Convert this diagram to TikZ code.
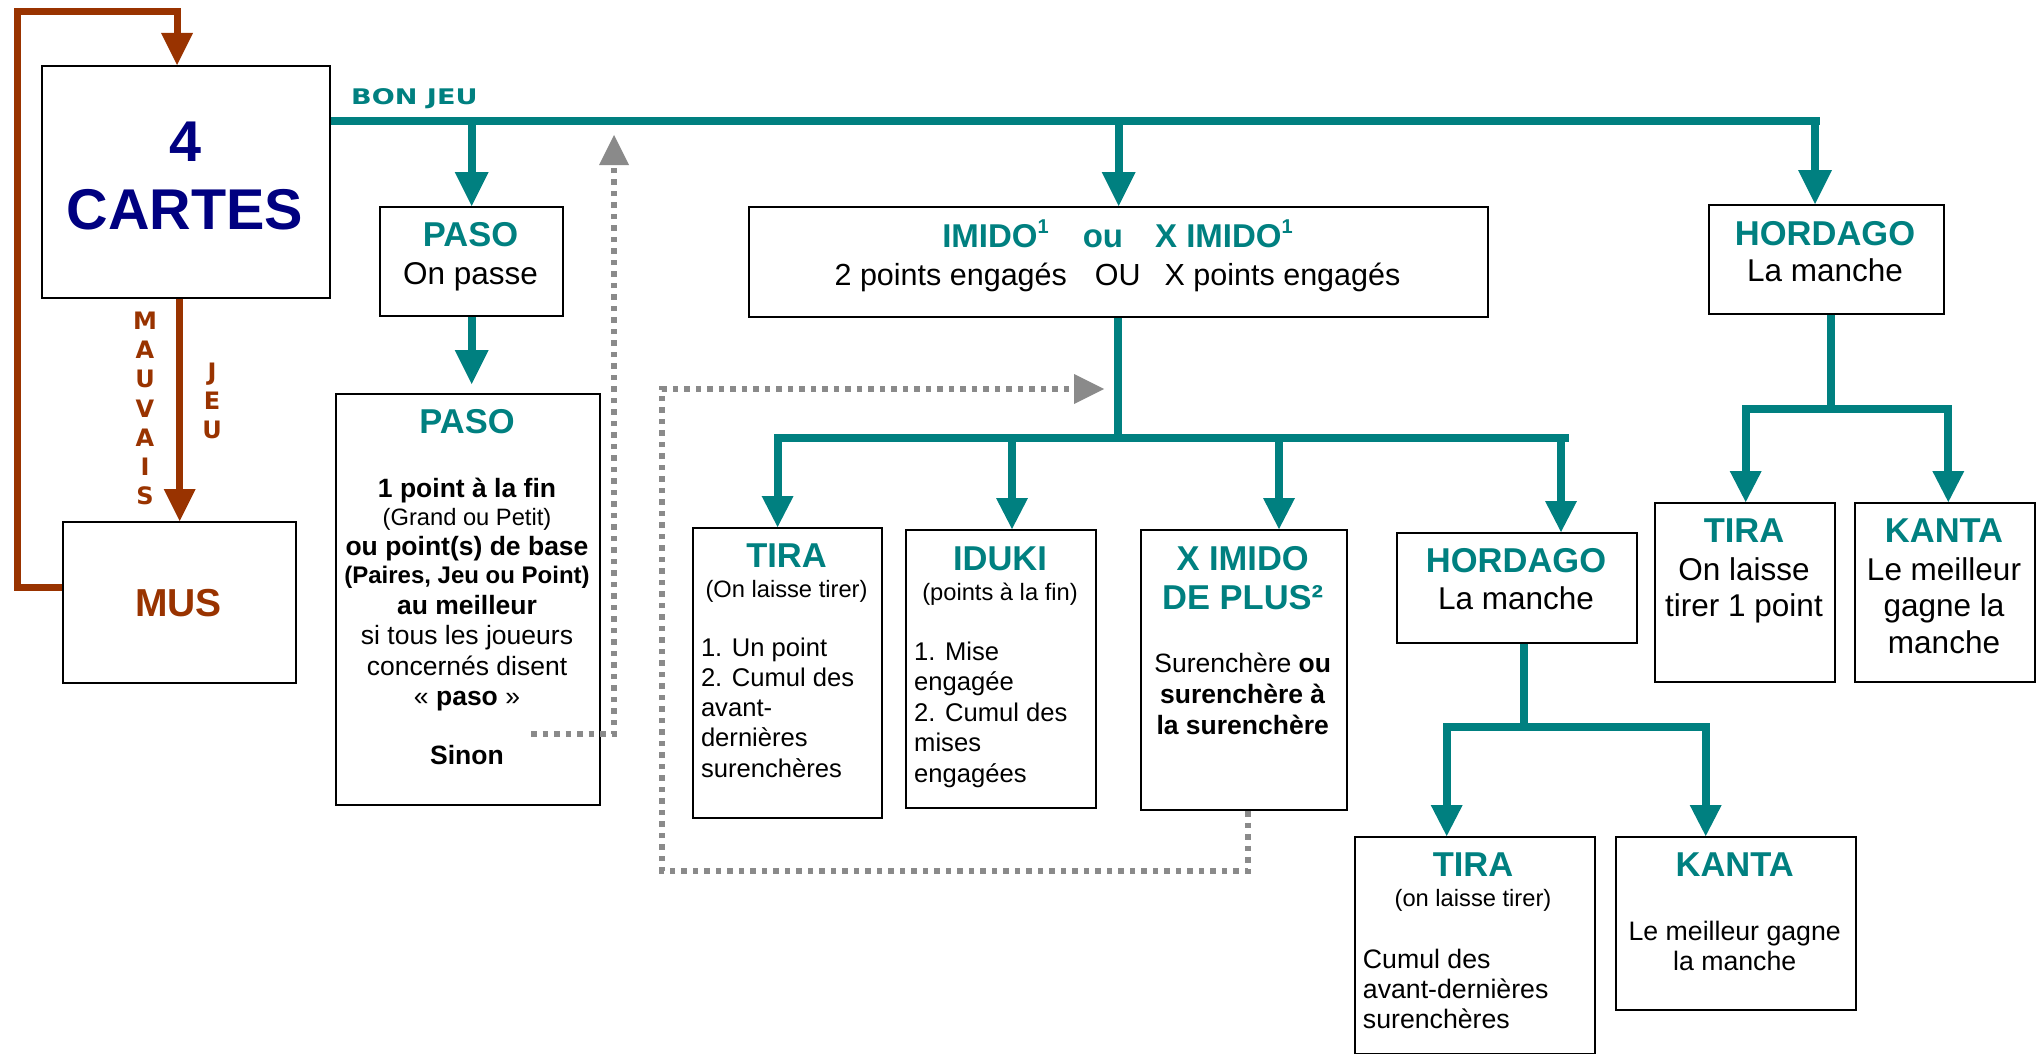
\documentclass[tikz,border=0pt]{standalone}
\usepackage{fontspec}
\setmainfont{Liberation Sans}
\newfontfamily\dvs[FakeStretch=1.26]{DejaVu Sans}
\newfontfamily\dv{DejaVu Sans}
\usetikzlibrary{arrows.meta}
\definecolor{tealc}{HTML}{008080}
\definecolor{brownc}{HTML}{993300}
\definecolor{navyc}{HTML}{000080}
\definecolor{grayc}{HTML}{8A8A8A}
\tikzset{
 box/.style={draw=black, line width=2.4pt, anchor=north west, inner sep=0pt},
 tl/.style={line width=8pt, draw=tealc},
 tlh/.style={tl, line cap=rect},
 ta/.style={tl, -{Triangle[width=34pt,length=34pt,line width=0pt]}},
 tb/.style={tl, -{Triangle[width=32pt,length=31pt,line width=0pt]}},
 ba/.style={line width=7pt, draw=brownc, -{Triangle[width=32pt,length=32pt,line width=0pt]}},
 ga/.style={line width=6pt, draw=grayc, dash pattern=on 5.5pt off 6pt, -{Triangle[width=30pt,length=30pt,line width=0pt]}},
 tx/.style={anchor=base, inner sep=0pt},
 lx/.style={anchor=base west, inner sep=0pt},
 ttl/.style={tx, text=tealc, font=\bfseries\fontsize{34.5}{40}\selectfont},
 big/.style={tx, font=\fontsize{31.5}{36}\selectfont},
 par/.style={tx, font=\fontsize{23.7}{28}\selectfont},
 lst/.style={lx, font=\fontsize{25.6}{30}\selectfont},
 mid/.style={tx, font=\fontsize{26.5}{30}\selectfont},
 midb/.style={tx, font=\bfseries\fontsize{26.5}{30}\selectfont},
 sm/.style={tx, font=\fontsize{26.7}{30}\selectfont},
 sml/.style={lx, font=\fontsize{26.7}{30}\selectfont},
 vl/.style={tx, text=brownc, font=\dv\bfseries\fontsize{24}{28}\selectfont},
}
\newcommand\supone{\raisebox{0.42em}{\fontsize{20}{20}\selectfont 1}}
\begin{document}
\begin{tikzpicture}[x=1pt,y=-1pt]
\useasboundingbox (0,0) rectangle (2040,1054);
% ---------- boxes
\node[box, minimum width=288pt, minimum height=232pt] (cartes) at (41,65) {};
\node[box, minimum width=233pt, minimum height=161pt] (mus) at (62,521) {};
\node[box, minimum width=183pt, minimum height=109pt] (paso1) at (379,206) {};
\node[box, minimum width=264pt, minimum height=411pt] (paso2) at (335,393) {};
\node[box, minimum width=739pt, minimum height=110pt] (imido) at (748,206) {};
\node[box, minimum width=189pt, minimum height=290pt] (tira) at (692,527) {};
\node[box, minimum width=190pt, minimum height=278pt] (iduki) at (905,529) {};
\node[box, minimum width=206pt, minimum height=280pt] (ximido) at (1140,529) {};
\node[box, minimum width=240pt, minimum height=110pt] (hord2) at (1396,532) {};
\node[box, minimum width=240pt, minimum height=217pt] (tira3) at (1353.5,836) {};
\node[box, minimum width=240pt, minimum height=173pt] (kanta3) at (1615,836) {};
\node[box, minimum width=235pt, minimum height=109pt] (hord1) at (1708,204) {};
\node[box, minimum width=180pt, minimum height=179pt] (tira2) at (1654,502) {};
\node[box, minimum width=180pt, minimum height=179pt] (kanta2) at (1854,502) {};

% ---------- coordinates
\coordinate (lb) at (17.5,587);
\coordinate (lt) at (17.5,11.5);
\coordinate (ct) at (177,11.5);
\coordinate (bjend) at (1820,121);
\coordinate (h1a) at (1815,121);
\coordinate (ja) at (777.6,438);
\coordinate (jb) at (1012,438);
\coordinate (jc) at (1279,438);
\coordinate (jd) at (1561,438);
\coordinate (je) at (1565,438);
\coordinate (jm) at (1117.5,438);
\coordinate (k0) at (1523.7,726.7);
\coordinate (k1) at (1446.7,726.7);
\coordinate (k2) at (1705.7,726.7);
\coordinate (h0) at (1830.7,409);
\coordinate (h1) at (1745.7,409);
\coordinate (h2) at (1948.3,409);
\coordinate (g1) at (531,734);
\coordinate (g2) at (614,734);
\coordinate (g3) at (614,135);
\coordinate (d1) at (1248,871);
\coordinate (d2) at (662,871);
\coordinate (d3) at (662,389);
\coordinate (d4) at (1104,389);
\path (paso1.south |- paso2.north) coordinate (pp0);

% ---------- brown connectors
\draw[ba] (mus.west |- lb) -- (lb) -- (lt) -- (ct) -- (ct |- cartes.north);
\draw[ba] (cartes.south -| mus.north) -- (mus.north);

% ---------- teal connectors
\draw[tl] (cartes.east |- bjend) -- (bjend);
\draw[ta] (paso1.north |- bjend) -- (paso1.north);
\draw[ta] (imido.north |- bjend) -- (imido.north);
\draw[ta] (h1a) -- (h1a |- hord1.north);
\draw[ta] (paso1.south) -- ([yshift=9pt]pp0);
\draw[tl] (imido.south -| jm) -- (jm);
\draw[tlh] (ja) -- (je);
\draw[tb] (ja) -- (ja |- tira.north);
\draw[tb] (jb) -- (jb |- iduki.north);
\draw[tb] (jc) -- (jc |- ximido.north);
\draw[tb] (jd) -- (jd |- hord2.north);
\draw[tl] (k0 |- hord2.south) -- (k0);
\draw[tlh] (k1) -- (k2);
\draw[tb] (k1) -- (k1 |- tira3.north);
\draw[tb] (k2) -- (k2 |- kanta3.north);
\draw[tl] (h0 |- hord1.south) -- (h0);
\draw[tlh] (h1) -- (h2);
\draw[tb] (h1) -- (h1 |- tira2.north);
\draw[tb] (h2) -- (h2 |- kanta2.north);

% ---------- gray dotted connectors
\draw[ga] (g1) -- (g2) -- (g3);
\draw[ga] (ximido.south -| d1) -- (d1) -- (d2) -- (d3) -- (d4);

% ---------- texts
\node[tx, text=navyc, font=\bfseries\fontsize{57.5}{60}\selectfont] (c4) at (185,161.7) {4};
\node[tx, text=navyc, font=\bfseries\fontsize{57.5}{60}\selectfont] (cc) at (185,229.3) {CARTES};
\node[tx, text=brownc, font=\bfseries\fontsize{39}{44}\selectfont] (mt) at (178.5,616) {MUS};
\node[lx, text=tealc, font=\dvs\bfseries\fontsize{21.5}{24}\selectfont] (bonjeu) at (351,105) {BON JEU};
\foreach \l/\y [count=\i] in {M/329.3,A/358.3,U/387.5,V/417,A/446,I/475,S/504}
  \node[vl] (mv\i) at (145,\y) {\l};
\foreach \l/\y [count=\i] in {J/380,E/409.5,U/438.5}
  \node[vl] (je\i) at (212,\y) {\l};

% PASO 1
\node[ttl] (p1a) at (470.5,246.7) {PASO};
\node[big] (p1b) at (470.5,284) {On passe};
% PASO 2
\node[ttl] (p2a) at (467,433.3) {PASO};
\node[midb] (p2b) at (467,497.3) {1 point à la fin};
\node[par] (p2c) at (467,525.7) {(Grand ou Petit)};
\node[midb] (p2d) at (467,555) {ou point(s) de base};
\node[tx, font=\bfseries\fontsize{24}{28}\selectfont] (p2e) at (467,583) {(Paires, Jeu ou Point)};
\node[midb] (p2f) at (467,614) {au meilleur};
\node[mid] (p2g) at (467,644) {si tous les joueurs};
\node[mid] (p2h) at (467,675) {concernés disent};
\node[mid] (p2i) at (467,705) {«~\textbf{paso}~»};
\node[midb] (p2j) at (467,764) {Sinon};
% IMIDO
\node[tx, text=tealc, font=\bfseries\fontsize{33}{38}\selectfont] (ima) at (1117.5,247.7) {IMIDO\supone\hspace{34pt}ou\hspace{32pt}X IMIDO\supone};
\node[tx, font=\fontsize{30.5}{34}\selectfont] (imb) at (1117.5,285.3) {2 points engagés\hspace{28pt}OU\hspace{24pt}X points engagés};
% TIRA
\node[ttl] (tia) at (786.5,567.7) {TIRA};
\node[par] (tib) at (786.5,597.3) {(On laisse tirer)};
\node[lst] (tic) at (700.8,656) {1. Un point};
\node[lst] (tid) at (700.8,686) {2. Cumul des};
\node[lst] (tie) at (700.8,716.7) {avant-};
\node[lst] (tif) at (700.8,746.7) {dernières};
\node[lst] (tig) at (700.8,777.3) {surenchères};
% IDUKI
\node[ttl] (ida) at (1000,570.7) {IDUKI};
\node[par] (idb) at (1000,600) {(points à la fin)};
\node[lst] (idc) at (914,660.7) {1. Mise};
\node[lst] (idd) at (914,690.7) {engagée};
\node[lst] (ide) at (914,721.3) {2. Cumul des};
\node[lst] (idf) at (914,751.7) {mises};
\node[lst] (idg) at (914,782.7) {engagées};
% X IMIDO DE PLUS
\node[ttl] (xa) at (1242.7,570.7) {X IMIDO};
\node[ttl] (xb) at (1242.7,609.3) {DE PLUS²};
\node[mid] (xc) at (1242.7,672.7) {Surenchère \textbf{ou}};
\node[midb] (xd) at (1242.7,703.3) {surenchère à};
\node[midb] (xe) at (1242.7,734.3) {la surenchère};
% HORDAGO 1
\node[ttl] (h1t) at (1825,245) {HORDAGO};
\node[big] (h1b) at (1825,281) {La manche};
% HORDAGO 2
\node[ttl] (h2t) at (1516,572.7) {HORDAGO};
\node[big] (h2b) at (1516,609.3) {La manche};
% TIRA 2
\node[ttl] (t2a) at (1744,542.7) {TIRA};
\node[big] (t2b) at (1744,580) {On laisse};
\node[big] (t2c) at (1744,616.7) {tirer 1 point};
% KANTA 2
\node[ttl] (k2a) at (1944,542.7) {KANTA};
\node[big] (k2b) at (1944,580) {Le meilleur};
\node[big] (k2c) at (1944,616.7) {gagne la};
\node[big] (k2d) at (1944,653.3) {manche};
% TIRA 3
\node[ttl] (t3a) at (1473,876.7) {TIRA};
\node[par] (t3b) at (1473,906.7) {(on laisse tirer)};
\node[sml] (t3c) at (1362.7,968.3) {Cumul des};
\node[sml] (t3d) at (1362.7,998.3) {avant-dernières};
\node[sml] (t3e) at (1362.7,1028.3) {surenchères};
% KANTA 3
\node[ttl] (k3a) at (1734.7,876.7) {KANTA};
\node[sm] (k3b) at (1734.7,940) {Le meilleur gagne};
\node[sm] (k3c) at (1734.7,970.7) {la manche};
\end{tikzpicture}
\end{document}
